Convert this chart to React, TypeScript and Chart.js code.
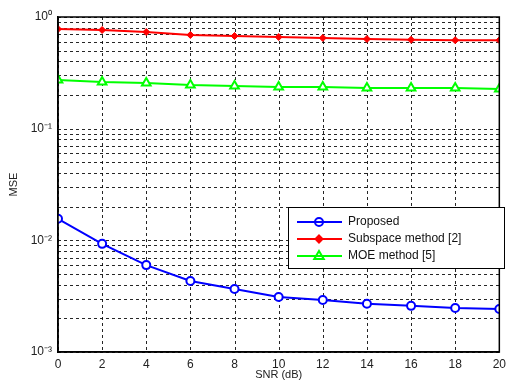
import React, { useEffect, useRef } from "react";
import { Chart, registerables } from "chart.js";

Chart.register(...registerables);

const snr = [0, 2, 4, 6, 8, 10, 12, 14, 16, 18, 20];
const proposed = [0.0156, 0.0093, 0.0060, 0.00433, 0.00367, 0.00311, 0.00292, 0.0027, 0.00259, 0.00248, 0.00243];
const subspace = [0.78, 0.765, 0.734, 0.69, 0.676, 0.662, 0.649, 0.635, 0.625, 0.62, 0.62];
const moe = [0.273, 0.262, 0.257, 0.246, 0.241, 0.236, 0.236, 0.231, 0.231, 0.231, 0.227];
const seriesNames = ["Proposed", "Subspace method [2]", "MOE method [5]"];
const yTickLabels: Record<string, string> = { "1": "10⁰", "0.1": "10⁻¹", "0.01": "10⁻²", "0.001": "10⁻³" };

const FONT = "Liberation Sans, Arial, sans-serif";

function drawMarker(ctx: CanvasRenderingContext2D, style: string, x: number, y: number, r: number, color: string, filled: boolean) {
  ctx.save();
  ctx.strokeStyle = color;
  ctx.fillStyle = filled ? color : "#fff";
  ctx.lineWidth = 2;
  ctx.beginPath();
  if (style === "circle") {
    ctx.arc(x, y, r, 0, Math.PI * 2);
  } else if (style === "rectRot") {
    ctx.moveTo(x, y - r);
    ctx.lineTo(x + r, y);
    ctx.lineTo(x, y + r);
    ctx.lineTo(x - r, y);
    ctx.closePath();
  } else {
    ctx.moveTo(x, y - r);
    ctx.lineTo(x + r * 0.95, y + r * 0.6);
    ctx.lineTo(x - r * 0.95, y + r * 0.6);
    ctx.closePath();
  }
  if (filled) ctx.fill();
  ctx.stroke();
  ctx.restore();
}

const gridPlugin = {
  id: "dashGrid",
  beforeDatasetsDraw(chart: any) {
    const { ctx, chartArea, scales } = chart;
    ctx.save();
    ctx.strokeStyle = "rgba(0,0,0,0.85)";
    ctx.lineWidth = 1;
    ctx.setLineDash([3, 3]);
    scales.x.ticks.forEach((t: any) => {
      const x = Math.round(scales.x.getPixelForValue(t.value)) + 0.5;
      ctx.beginPath();
      ctx.moveTo(x, chartArea.top);
      ctx.lineTo(x, chartArea.bottom);
      ctx.stroke();
    });
    scales.y.ticks.forEach((t: any) => {
      const y = Math.round(scales.y.getPixelForValue(t.value)) + 0.5;
      ctx.beginPath();
      ctx.moveTo(chartArea.left, y);
      ctx.lineTo(chartArea.right, y);
      ctx.stroke();
    });
    ctx.restore();
  },
};

const framePlugin = {
  id: "frame",
  afterDatasetsDraw(chart: any) {
    const { ctx, chartArea } = chart;
    ctx.save();
    ctx.strokeStyle = "#000";
    ctx.lineWidth = 1.5;
    ctx.strokeRect(chartArea.left, chartArea.top, chartArea.right - chartArea.left, chartArea.bottom - chartArea.top);
    // legend box
    const bx = 288, by = 207, bw = 216, bh = 61;
    ctx.fillStyle = "#fff";
    ctx.fillRect(bx, by, bw, bh);
    ctx.lineWidth = 1;
    ctx.strokeStyle = "#000";
    ctx.strokeRect(bx + 0.5, by + 0.5, bw, bh);
    const rows = [222, 239, 256];
    chart.data.datasets.forEach((ds: any, i: number) => {
      const y = rows[i];
      ctx.strokeStyle = ds.borderColor;
      ctx.lineWidth = 2;
      ctx.beginPath();
      ctx.moveTo(297, y);
      ctx.lineTo(342, y);
      ctx.stroke();
      drawMarker(ctx, ds.pointStyle, 319, y, ds.pointRadius, ds.borderColor, ds.pointBackgroundColor !== "#fff");
      ctx.fillStyle = "#111";
      ctx.font = "12px " + FONT;
      ctx.textAlign = "left";
      ctx.textBaseline = "middle";
      ctx.fillText(ds.label, 348, y);
    });
    ctx.restore();
  },
};

export default function App() {
  const ref = useRef<HTMLCanvasElement>(null);
  useEffect(() => {
    if (!ref.current) return;
    const mk = (vals: number[]) => vals.map((v, i) => ({ x: snr[i], y: v }));
    const chart = new Chart(ref.current, {
      type: "line",
      data: {
        datasets: [
          {
            label: seriesNames[0],
            data: mk(proposed),
            borderColor: "#0000ff",
            backgroundColor: "#0000ff",
            pointBackgroundColor: "#fff",
            pointBorderColor: "#0000ff",
            pointStyle: "circle",
            pointRadius: 4,
            pointBorderWidth: 2,
            borderWidth: 2,
          },
          {
            label: seriesNames[1],
            data: mk(subspace),
            borderColor: "#ff0000",
            backgroundColor: "#ff0000",
            pointBackgroundColor: "#ff0000",
            pointBorderColor: "#ff0000",
            pointStyle: "rectRot",
            pointRadius: 3.5,
            pointBorderWidth: 1,
            borderWidth: 2,
          },
          {
            label: seriesNames[2],
            data: mk(moe),
            borderColor: "#00ff00",
            backgroundColor: "#00ff00",
            pointBackgroundColor: "#fff",
            pointBorderColor: "#00ff00",
            pointStyle: "triangle",
            pointRadius: 5,
            pointBorderWidth: 2,
            borderWidth: 2,
          },
        ] as any,
      },
      options: {
        animation: false,
        responsive: false,
        maintainAspectRatio: false,
        devicePixelRatio: 1,
        layout: { padding: { left: 0, top: 17, right: 4, bottom: 0 } },
        plugins: { legend: { display: false }, tooltip: { enabled: false } },
        scales: {
          x: {
            type: "linear",
            min: 0,
            max: 20,
            afterBuildTicks: (s: any) => {
              s.ticks = snr.map((v) => ({ value: v }));
            },
            afterFit: (s: any) => {
              s.height = 38;
            },
            ticks: {
              padding: 5,
              color: "#222",
              font: { family: FONT, size: 12 },
              maxRotation: 0,
              autoSkip: false,
            },
            grid: { display: false, drawTicks: false, tickLength: 0 },
            border: { display: true, color: "#000", width: 1.5 },
            title: {
              display: true,
              text: "SNR (dB)",
              color: "#222",
              font: { family: FONT, size: 11 },
              padding: { top: 0, bottom: 8 },
            },
          },
          y: {
            type: "logarithmic",
            min: 0.001,
            max: 1,
            afterBuildTicks: (s: any) => {
              const t: any[] = [];
              for (let e = -3; e < 0; e++) {
                for (let m = 1; m < 10; m++) t.push({ value: m * Math.pow(10, e) });
              }
              t.push({ value: 1 });
              s.ticks = t;
            },
            afterFit: (s: any) => {
              s.width = 58;
            },
            ticks: {
              padding: 6,
              color: "#222",
              autoSkip: false,
              font: { family: FONT, size: 12 },
              callback: (v: any) => {
                const key = String(Number(Number(v).toPrecision(3)));
                return yTickLabels[key] ?? "";
              },
            },
            grid: { display: false, drawTicks: false, tickLength: 0 },
            border: { display: true, color: "#000", width: 1.5 },
            title: {
              display: true,
              text: "MSE",
              color: "#222",
              font: { family: FONT, size: 11 },
              padding: { top: 7, bottom: 0 },
            },
          },
        },
      } as any,
      plugins: [gridPlugin, framePlugin],
    });
    return () => chart.destroy();
  }, []);
  return (
    <div style={{ position: "absolute", left: 0, top: 0, width: 511, height: 390, background: "#fff" }}>
      <canvas ref={ref} width={511} height={390} style={{ width: 511, height: 390 }} />
    </div>
  );
}
